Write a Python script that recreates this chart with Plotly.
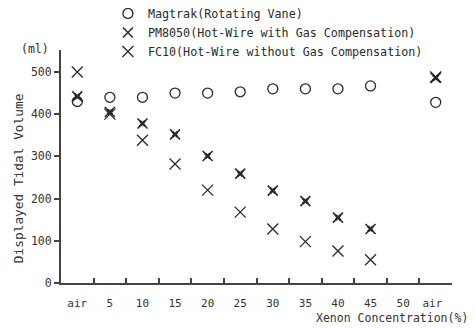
import plotly.graph_objects as go

categories = ["air", "5", "10", "15", "20", "25", "30", "35", "40", "45", "50", "air "]
magtrak = [430, 440, 440, 450, 450, 453, 460, 460, 460, 467, None, 428]
pm8050 = [442, 405, 378, 352, 301, 259, 219, 194, 155, 128, None, 486]
fc10 = [500, 400, 338, 282, 220, 168, 128, 98, 76, 55, None, 488]
yticks = [0, 100, 200, 300, 400, 500]

INK = "#2a2a2a"
FONT = "DejaVu Sans Mono"

fig = go.Figure()
fig.add_trace(go.Scatter(x=categories, y=magtrak, mode="markers", name="Magtrak(Rotating Vane)",
                         marker=dict(symbol="circle-open", size=10, color=INK, line=dict(width=1.3, color=INK))))
fig.add_trace(go.Scatter(x=categories, y=pm8050, mode="markers", name="PM8050(Hot-Wire with Gas Compensation)",
                         legendgroup="pm",
                         marker=dict(symbol="x-thin-open", size=10, color=INK, line=dict(width=1.6, color=INK))))
fig.add_trace(go.Scatter(x=categories, y=pm8050, mode="markers", name="PM8050", showlegend=False,
                         legendgroup="pm", hoverinfo="skip",
                         marker=dict(symbol="x", size=6, color=INK, line=dict(width=0))))
fig.add_trace(go.Scatter(x=categories, y=fc10, mode="markers", name="FC10(Hot-Wire without Gas Compensation)",
                         marker=dict(symbol="x-thin-open", size=11, color=INK, line=dict(width=1.3, color=INK))))

fig.update_layout(
    width=467, height=320,
    margin=dict(l=53, r=23, t=42, b=45, autoexpand=False),
    paper_bgcolor="white", plot_bgcolor="white",
    font=dict(family=FONT, size=11.5, color=INK),
    showlegend=True,
    legend=dict(x=0.120, y=1.219, xanchor="left", yanchor="top", bgcolor="rgba(0,0,0,0)",
                font=dict(family=FONT, size=11.7, color=INK), itemwidth=30, tracegroupgap=0),
    xaxis=dict(type="category", categoryorder="array", categoryarray=categories,
               range=[-0.5, 11.5], tickson="boundaries", ticks="inside", ticklen=5, tickwidth=1.5,
               tickangle=0, tickcolor="#444", showline=True, linecolor="#444", linewidth=2, showgrid=False,
               zeroline=False, ticklabelstandoff=9, tickfont=dict(family=FONT, size=11, color="#333")),
    yaxis=dict(range=[0, 552], tickvals=yticks, ticks="outside", ticklen=5, tickwidth=1.5,
               tickcolor="#444", showline=True, linecolor="#444", linewidth=2, showgrid=False,
               zeroline=False, tickfont=dict(family=FONT, size=11.5, color="#333")),
    annotations=[
        dict(text="Displayed Tidal Volume", xref="paper", yref="paper", x=-0.110, y=0.45,
             xanchor="center", yanchor="middle", textangle=-90, showarrow=False,
             font=dict(family=FONT, size=12.8, color="#333")),
        dict(text="(ml)", xref="paper", yref="paper", x=-0.025, y=1.004, xanchor="right", yanchor="middle",
             showarrow=False, font=dict(family=FONT, size=11.5, color=INK)),
        dict(text="Xenon Concentration(%)", xref="paper", yref="paper", x=1.046, y=-0.150,
             xanchor="right", yanchor="middle", showarrow=False, font=dict(family=FONT, size=11.5, color="#333")),
    ],
)

fig.write_html("out.html")
